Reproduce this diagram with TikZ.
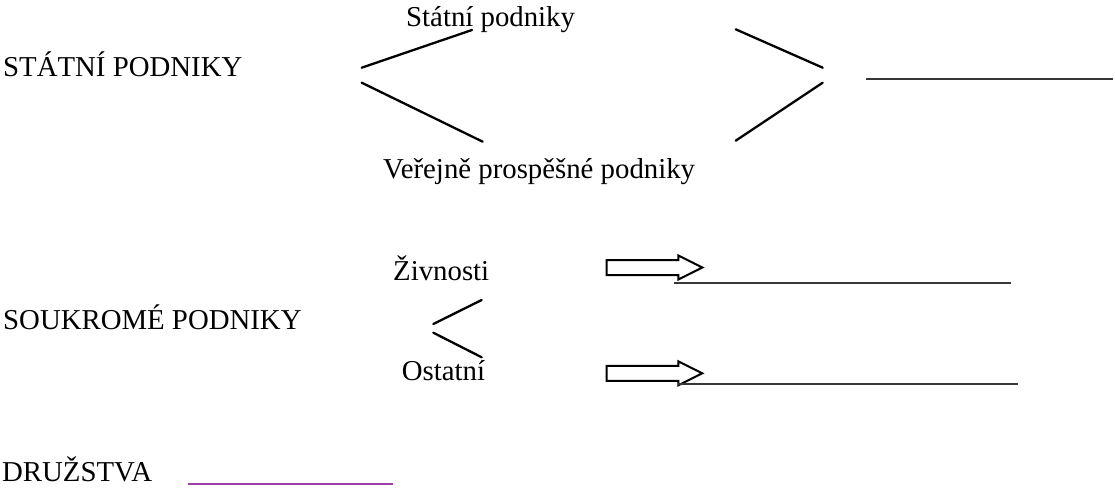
\documentclass[tikz,border=0pt]{standalone}
\usepackage{fontspec}
\setmainfont{Liberation Serif}
\definecolor{blankpurple}{RGB}{160,64,165}
\definecolor{blankgray}{RGB}{55,55,55}
\begin{document}
\begin{tikzpicture}[x=1pt,y=-1pt,
  txt/.style={anchor=base west,inner sep=0pt,font=\fontsize{28.8}{34}\selectfont},
  branch/.style={line width=2.3pt,line cap=round},
  blank/.style={line width=2pt,blankgray},
  hollowarrow/.style={line width=2pt,line join=miter}]
\useasboundingbox (0,0) rectangle (1115,495);

% --- state enterprises ---
\node[txt] (state) at (3,76.7) {STÁTNÍ PODNIKY};
\node[txt] (statep) at (406,26.7) {Státní podniky};
\node[txt] (public) at (383,178) {Veřejně prospěšné podniky};
\coordinate (sL1) at (361.7,67.7);
\coordinate (sT) at (472,30);
\coordinate (sL2) at (361.7,82.7);
\coordinate (sB) at (482.7,141.7);
\draw[branch] (sL1) -- (sT);
\draw[branch] (sL2) -- (sB);
\coordinate (mT) at (735.7,29.3);
\coordinate (mR1) at (822.7,67.7);
\coordinate (mR2) at (822.7,82.7);
\coordinate (mB) at (735.7,140.7);
\draw[branch] (mT) -- (mR1);
\draw[branch] (mB) -- (mR2);
\coordinate (b1a) at (866,79.3);
\coordinate (b1b) at (1113,79.3);
\draw[blank] (b1a) -- (b1b);

% --- private enterprises ---
\node[txt] (private) at (3,329) {SOUKROMÉ PODNIKY};
\node[txt] (trade) at (393,280) {Živnosti};
\node[txt] (other) at (401.7,380) {Ostatní};
\coordinate (pL1) at (433.3,324);
\coordinate (pT) at (481.7,300);
\coordinate (pL2) at (433.3,332.7);
\coordinate (pB) at (481.7,357.3);
\draw[branch] (pL1) -- (pT);
\draw[branch] (pL2) -- (pB);

% hollow arrows pointing to the blanks
\foreach \y/\n in {267.5/a1,373.3/a2}{
  \draw[hollowarrow] (606.7,\y-7.5) -- (678.3,\y-7.5) -- (678.3,\y-12) -- (702.3,\y)
    -- (678.3,\y+12) -- (678.3,\y+7.5) -- (606.7,\y+7.5) -- cycle;
}
\coordinate (b2a) at (674,282.7);
\coordinate (b2b) at (1011,282.7);
\draw[blank] (b2a) -- (b2b);
\coordinate (b3a) at (678,384);
\coordinate (b3b) at (1018.3,384);
\draw[blank] (b3a) -- (b3b);

% --- cooperatives ---
\node[txt] (coop) at (2,481.7) {DRUŽSTVA};
\coordinate (b4a) at (188.3,484.3);
\coordinate (b4b) at (392.7,484.3);
\draw[line width=2.2pt,blankpurple] (b4a) -- (b4b);
\end{tikzpicture}
\end{document}
